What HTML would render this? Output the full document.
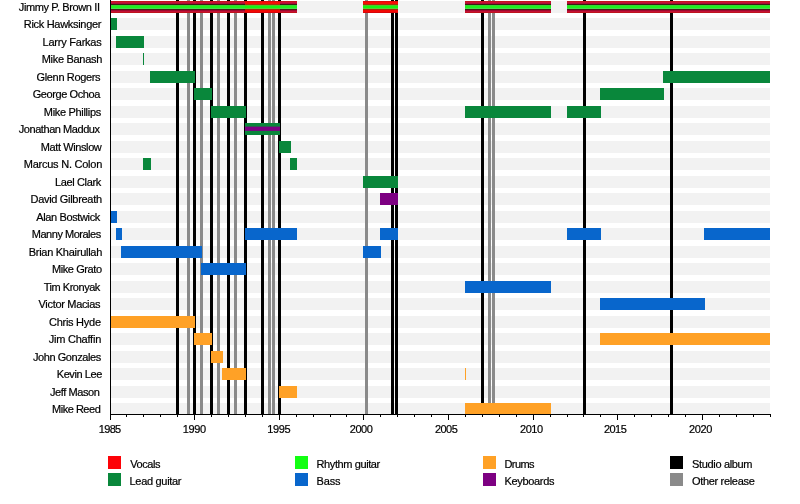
<!DOCTYPE html>
<html lang="en"><head><meta charset="utf-8"><title>Timeline</title>
<style>html,body{margin:0;padding:0;background:#fff}svg{display:block}text{stroke:#000;stroke-width:.2px}</style></head>
<body>
<svg width="800" height="504" viewBox="0 0 800 504" font-family="'Liberation Sans', sans-serif" font-size="11" fill="#000" >
<rect width="800" height="504" fill="#fff"/>
<g id="bands">
<rect x="110" y="1" width="660" height="12" fill="#f2f2f2"/>
<rect x="110" y="18" width="660" height="12" fill="#f2f2f2"/>
<rect x="110" y="36" width="660" height="12" fill="#f2f2f2"/>
<rect x="110" y="53" width="660" height="12" fill="#f2f2f2"/>
<rect x="110" y="71" width="660" height="12" fill="#f2f2f2"/>
<rect x="110" y="88" width="660" height="12" fill="#f2f2f2"/>
<rect x="110" y="106" width="660" height="12" fill="#f2f2f2"/>
<rect x="110" y="123" width="660" height="12" fill="#f2f2f2"/>
<rect x="110" y="141" width="660" height="12" fill="#f2f2f2"/>
<rect x="110" y="158" width="660" height="12" fill="#f2f2f2"/>
<rect x="110" y="176" width="660" height="12" fill="#f2f2f2"/>
<rect x="110" y="193" width="660" height="12" fill="#f2f2f2"/>
<rect x="110" y="211" width="660" height="12" fill="#f2f2f2"/>
<rect x="110" y="228" width="660" height="12" fill="#f2f2f2"/>
<rect x="110" y="246" width="660" height="12" fill="#f2f2f2"/>
<rect x="110" y="263" width="660" height="12" fill="#f2f2f2"/>
<rect x="110" y="281" width="660" height="12" fill="#f2f2f2"/>
<rect x="110" y="298" width="660" height="12" fill="#f2f2f2"/>
<rect x="110" y="316" width="660" height="12" fill="#f2f2f2"/>
<rect x="110" y="333" width="660" height="12" fill="#f2f2f2"/>
<rect x="110" y="351" width="660" height="12" fill="#f2f2f2"/>
<rect x="110" y="368" width="660" height="12" fill="#f2f2f2"/>
<rect x="110" y="386" width="660" height="12" fill="#f2f2f2"/>
<rect x="110" y="403" width="660" height="12" fill="#f2f2f2"/>
</g>
<g id="lines">
<rect x="187" y="0" width="3" height="414" fill="#8a8a8a"/>
<rect x="200" y="0" width="3" height="414" fill="#8a8a8a"/>
<rect x="217" y="0" width="3" height="414" fill="#8a8a8a"/>
<rect x="234" y="0" width="3" height="414" fill="#8a8a8a"/>
<rect x="268" y="0" width="3" height="414" fill="#8a8a8a"/>
<rect x="272" y="0" width="3" height="414" fill="#8a8a8a"/>
<rect x="365" y="0" width="3" height="414" fill="#8a8a8a"/>
<rect x="488" y="0" width="3" height="414" fill="#8a8a8a"/>
<rect x="492" y="0" width="3" height="414" fill="#8a8a8a"/>
<rect x="176" y="0" width="3" height="414" fill="#000"/>
<rect x="193" y="0" width="3" height="414" fill="#000"/>
<rect x="210" y="0" width="3" height="414" fill="#000"/>
<rect x="227" y="0" width="3" height="414" fill="#000"/>
<rect x="244" y="0" width="3" height="414" fill="#000"/>
<rect x="261" y="0" width="3" height="414" fill="#000"/>
<rect x="278" y="0" width="3" height="414" fill="#000"/>
<rect x="391" y="0" width="3" height="414" fill="#000"/>
<rect x="395" y="0" width="3" height="414" fill="#000"/>
<rect x="481" y="0" width="3" height="414" fill="#000"/>
<rect x="583" y="0" width="3" height="414" fill="#000"/>
<rect x="670" y="0" width="3" height="414" fill="#000"/>
</g>
<g id="bars">
<rect x="110" y="1" width="135" height="1" fill="#c2141e"/>
<rect x="110" y="2" width="135" height="1" fill="#c80f37"/>
<rect x="110" y="3" width="135" height="1" fill="#ac0c34"/>
<rect x="110" y="4" width="135" height="1" fill="#3a200f"/>
<rect x="110" y="5" width="135" height="1" fill="#34d634"/>
<rect x="110" y="6" width="135" height="1" fill="#1ef01e"/>
<rect x="110" y="7" width="135" height="1" fill="#1ef01e"/>
<rect x="110" y="8" width="135" height="1" fill="#48dc50"/>
<rect x="110" y="9" width="135" height="1" fill="#441e14"/>
<rect x="110" y="10" width="135" height="1" fill="#9c0a2c"/>
<rect x="110" y="11" width="135" height="1" fill="#c40f37"/>
<rect x="110" y="12" width="135" height="1" fill="#bd141e"/>
<rect x="245" y="1" width="35" height="1" fill="#e00808"/>
<rect x="245" y="2" width="35" height="1" fill="#fa0a05"/>
<rect x="245" y="3" width="35" height="1" fill="#f50f05"/>
<rect x="245" y="4" width="35" height="1" fill="#a0380a"/>
<rect x="245" y="5" width="35" height="1" fill="#50c828"/>
<rect x="245" y="6" width="35" height="1" fill="#14f514"/>
<rect x="245" y="7" width="35" height="1" fill="#14f514"/>
<rect x="245" y="8" width="35" height="1" fill="#5ad232"/>
<rect x="245" y="9" width="35" height="1" fill="#a02d0a"/>
<rect x="245" y="10" width="35" height="1" fill="#eb0a05"/>
<rect x="245" y="11" width="35" height="1" fill="#f50805"/>
<rect x="245" y="12" width="35" height="1" fill="#d7050a"/>
<rect x="280" y="1" width="17" height="1" fill="#c2141e"/>
<rect x="280" y="2" width="17" height="1" fill="#c80f37"/>
<rect x="280" y="3" width="17" height="1" fill="#ac0c34"/>
<rect x="280" y="4" width="17" height="1" fill="#3a200f"/>
<rect x="280" y="5" width="17" height="1" fill="#34d634"/>
<rect x="280" y="6" width="17" height="1" fill="#1ef01e"/>
<rect x="280" y="7" width="17" height="1" fill="#1ef01e"/>
<rect x="280" y="8" width="17" height="1" fill="#48dc50"/>
<rect x="280" y="9" width="17" height="1" fill="#441e14"/>
<rect x="280" y="10" width="17" height="1" fill="#9c0a2c"/>
<rect x="280" y="11" width="17" height="1" fill="#c40f37"/>
<rect x="280" y="12" width="17" height="1" fill="#bd141e"/>
<rect x="363" y="1" width="35" height="1" fill="#e00808"/>
<rect x="363" y="2" width="35" height="1" fill="#fa0a05"/>
<rect x="363" y="3" width="35" height="1" fill="#f50f05"/>
<rect x="363" y="4" width="35" height="1" fill="#a0380a"/>
<rect x="363" y="5" width="35" height="1" fill="#50c828"/>
<rect x="363" y="6" width="35" height="1" fill="#14f514"/>
<rect x="363" y="7" width="35" height="1" fill="#14f514"/>
<rect x="363" y="8" width="35" height="1" fill="#5ad232"/>
<rect x="363" y="9" width="35" height="1" fill="#a02d0a"/>
<rect x="363" y="10" width="35" height="1" fill="#eb0a05"/>
<rect x="363" y="11" width="35" height="1" fill="#f50805"/>
<rect x="363" y="12" width="35" height="1" fill="#d7050a"/>
<rect x="465" y="1" width="86" height="1" fill="#c2141e"/>
<rect x="465" y="2" width="86" height="1" fill="#c80f37"/>
<rect x="465" y="3" width="86" height="1" fill="#ac0c34"/>
<rect x="465" y="4" width="86" height="1" fill="#3a200f"/>
<rect x="465" y="5" width="86" height="1" fill="#34d634"/>
<rect x="465" y="6" width="86" height="1" fill="#1ef01e"/>
<rect x="465" y="7" width="86" height="1" fill="#1ef01e"/>
<rect x="465" y="8" width="86" height="1" fill="#48dc50"/>
<rect x="465" y="9" width="86" height="1" fill="#441e14"/>
<rect x="465" y="10" width="86" height="1" fill="#9c0a2c"/>
<rect x="465" y="11" width="86" height="1" fill="#c40f37"/>
<rect x="465" y="12" width="86" height="1" fill="#bd141e"/>
<rect x="567" y="1" width="203" height="1" fill="#c2141e"/>
<rect x="567" y="2" width="203" height="1" fill="#c80f37"/>
<rect x="567" y="3" width="203" height="1" fill="#ac0c34"/>
<rect x="567" y="4" width="203" height="1" fill="#3a200f"/>
<rect x="567" y="5" width="203" height="1" fill="#34d634"/>
<rect x="567" y="6" width="203" height="1" fill="#1ef01e"/>
<rect x="567" y="7" width="203" height="1" fill="#1ef01e"/>
<rect x="567" y="8" width="203" height="1" fill="#48dc50"/>
<rect x="567" y="9" width="203" height="1" fill="#441e14"/>
<rect x="567" y="10" width="203" height="1" fill="#9c0a2c"/>
<rect x="567" y="11" width="203" height="1" fill="#c40f37"/>
<rect x="567" y="12" width="203" height="1" fill="#bd141e"/>
<rect x="245" y="123" width="35" height="12" fill="#09873b"/>
<rect x="245" y="126.6" width="35" height="4.3" fill="#7d0082"/>
<rect x="110" y="18" width="7" height="12" fill="#09873b"/>
<rect x="116" y="36" width="28" height="12" fill="#09873b"/>
<rect x="143" y="53" width="1" height="12" fill="#09873b"/>
<rect x="150" y="71" width="45" height="12" fill="#09873b"/>
<rect x="663" y="71" width="107" height="12" fill="#09873b"/>
<rect x="194" y="88" width="18" height="12" fill="#09873b"/>
<rect x="600" y="88" width="64" height="12" fill="#09873b"/>
<rect x="211" y="106" width="35" height="12" fill="#09873b"/>
<rect x="465" y="106" width="86" height="12" fill="#09873b"/>
<rect x="567" y="106" width="34" height="12" fill="#09873b"/>
<rect x="279" y="141" width="12" height="12" fill="#09873b"/>
<rect x="143" y="158" width="8" height="12" fill="#09873b"/>
<rect x="290" y="158" width="7" height="12" fill="#09873b"/>
<rect x="363" y="176" width="35" height="12" fill="#09873b"/>
<rect x="380" y="193" width="18" height="12" fill="#7d0082"/>
<rect x="110" y="211" width="7" height="12" fill="#0866cc"/>
<rect x="116" y="228" width="6" height="12" fill="#0866cc"/>
<rect x="245" y="228" width="52" height="12" fill="#0866cc"/>
<rect x="380" y="228" width="18" height="12" fill="#0866cc"/>
<rect x="567" y="228" width="34" height="12" fill="#0866cc"/>
<rect x="704" y="228" width="66" height="12" fill="#0866cc"/>
<rect x="121" y="246" width="81" height="12" fill="#0866cc"/>
<rect x="363" y="246" width="18" height="12" fill="#0866cc"/>
<rect x="201" y="263" width="45" height="12" fill="#0866cc"/>
<rect x="465" y="281" width="86" height="12" fill="#0866cc"/>
<rect x="600" y="298" width="105" height="12" fill="#0866cc"/>
<rect x="110" y="316" width="85" height="12" fill="#ffa126"/>
<rect x="194" y="333" width="18" height="12" fill="#ffa126"/>
<rect x="600" y="333" width="170" height="12" fill="#ffa126"/>
<rect x="211" y="351" width="12" height="12" fill="#ffa126"/>
<rect x="222" y="368" width="24" height="12" fill="#ffa126"/>
<rect x="465" y="368" width="1" height="12" fill="#ffa126"/>
<rect x="279" y="386" width="18" height="12" fill="#ffa126"/>
<rect x="465" y="403" width="86" height="12" fill="#ffa126"/>
</g>
<g id="axis">
<rect x="110" y="0" width="1" height="415" fill="#000"/>
<rect x="110" y="414" width="661" height="1" fill="#000"/>
<rect x="110" y="415" width="1" height="5" fill="#000"/>
<text x="98.75" y="433" textLength="22.45" lengthAdjust="spacing">1985</text>
<rect x="126" y="415" width="1" height="2" fill="#000"/>
<rect x="143" y="415" width="1" height="2" fill="#000"/>
<rect x="160" y="415" width="1" height="2" fill="#000"/>
<rect x="177" y="415" width="1" height="2" fill="#000"/>
<rect x="194" y="415" width="1" height="5" fill="#000"/>
<text x="182.70" y="433" textLength="23.35" lengthAdjust="spacing">1990</text>
<rect x="211" y="415" width="1" height="2" fill="#000"/>
<rect x="228" y="415" width="1" height="2" fill="#000"/>
<rect x="245" y="415" width="1" height="2" fill="#000"/>
<rect x="262" y="415" width="1" height="2" fill="#000"/>
<rect x="279" y="415" width="1" height="5" fill="#000"/>
<text x="267.30" y="433" textLength="23.25" lengthAdjust="spacing">1995</text>
<rect x="296" y="415" width="1" height="2" fill="#000"/>
<rect x="313" y="415" width="1" height="2" fill="#000"/>
<rect x="330" y="415" width="1" height="2" fill="#000"/>
<rect x="346" y="415" width="1" height="2" fill="#000"/>
<rect x="363" y="415" width="1" height="5" fill="#000"/>
<text x="349.80" y="433" textLength="23.10" lengthAdjust="spacing">2000</text>
<rect x="380" y="415" width="1" height="2" fill="#000"/>
<rect x="397" y="415" width="1" height="2" fill="#000"/>
<rect x="414" y="415" width="1" height="2" fill="#000"/>
<rect x="431" y="415" width="1" height="2" fill="#000"/>
<rect x="448" y="415" width="1" height="5" fill="#000"/>
<text x="434.90" y="433" textLength="22.85" lengthAdjust="spacing">2005</text>
<rect x="465" y="415" width="1" height="2" fill="#000"/>
<rect x="482" y="415" width="1" height="2" fill="#000"/>
<rect x="499" y="415" width="1" height="2" fill="#000"/>
<rect x="516" y="415" width="1" height="2" fill="#000"/>
<rect x="533" y="415" width="1" height="5" fill="#000"/>
<text x="520.05" y="433" textLength="23.10" lengthAdjust="spacing">2010</text>
<rect x="550" y="415" width="1" height="2" fill="#000"/>
<rect x="567" y="415" width="1" height="2" fill="#000"/>
<rect x="583" y="415" width="1" height="2" fill="#000"/>
<rect x="600" y="415" width="1" height="2" fill="#000"/>
<rect x="617" y="415" width="1" height="5" fill="#000"/>
<text x="603.95" y="433" textLength="22.85" lengthAdjust="spacing">2015</text>
<rect x="634" y="415" width="1" height="2" fill="#000"/>
<rect x="651" y="415" width="1" height="2" fill="#000"/>
<rect x="668" y="415" width="1" height="2" fill="#000"/>
<rect x="685" y="415" width="1" height="2" fill="#000"/>
<rect x="702" y="415" width="1" height="5" fill="#000"/>
<text x="688.95" y="433" textLength="23.35" lengthAdjust="spacing">2020</text>
<rect x="719" y="415" width="1" height="2" fill="#000"/>
<rect x="736" y="415" width="1" height="2" fill="#000"/>
<rect x="753" y="415" width="1" height="2" fill="#000"/>
<rect x="770" y="415" width="1" height="2" fill="#000"/>
</g>
<g id="labels">
<text x="18.80" y="10.80" textLength="81.20" lengthAdjust="spacing">Jimmy P. Brown II</text>
<text x="23.75" y="28.30" textLength="77.75" lengthAdjust="spacing">Rick Hawksinger</text>
<text x="42.50" y="45.80" textLength="59.25" lengthAdjust="spacing">Larry Farkas</text>
<text x="41.75" y="63.30" textLength="60.55" lengthAdjust="spacing">Mike Banash</text>
<text x="36.55" y="80.80" textLength="64.00" lengthAdjust="spacing">Glenn Rogers</text>
<text x="32.70" y="98.30" textLength="67.60" lengthAdjust="spacing">George Ochoa</text>
<text x="43.80" y="115.80" textLength="57.40" lengthAdjust="spacing">Mike Phillips</text>
<text x="18.80" y="133.30" textLength="81.20" lengthAdjust="spacing">Jonathan Maddux</text>
<text x="40.80" y="150.80" textLength="61.00" lengthAdjust="spacing">Matt Winslow</text>
<text x="23.75" y="168.30" textLength="78.55" lengthAdjust="spacing">Marcus N. Colon</text>
<text x="54.95" y="185.80" textLength="46.30" lengthAdjust="spacing">Lael Clark</text>
<text x="30.50" y="203.30" textLength="71.50" lengthAdjust="spacing">David Gilbreath</text>
<text x="36.20" y="220.80" textLength="64.10" lengthAdjust="spacing">Alan Bostwick</text>
<text x="31.80" y="238.30" textLength="69.40" lengthAdjust="spacing">Manny Morales</text>
<text x="28.70" y="255.80" textLength="73.60" lengthAdjust="spacing">Brian Khairullah</text>
<text x="51.95" y="273.30" textLength="50.10" lengthAdjust="spacing">Mike Grato</text>
<text x="43.70" y="290.80" textLength="56.60" lengthAdjust="spacing">Tim Kronyak</text>
<text x="38.55" y="308.30" textLength="62.00" lengthAdjust="spacing">Victor Macias</text>
<text x="49.00" y="325.80" textLength="52.00" lengthAdjust="spacing">Chris Hyde</text>
<text x="48.80" y="343.30" textLength="52.45" lengthAdjust="spacing">Jim Chaffin</text>
<text x="32.95" y="360.80" textLength="68.25" lengthAdjust="spacing">John Gonzales</text>
<text x="56.75" y="378.30" textLength="45.55" lengthAdjust="spacing">Kevin Lee</text>
<text x="50.00" y="395.80" textLength="49.95" lengthAdjust="spacing">Jeff Mason</text>
<text x="51.95" y="413.30" textLength="48.85" lengthAdjust="spacing">Mike Reed</text>
</g>
<g id="legend">
<rect x="108" y="456" width="13" height="13" fill="#fd0207"/>
<text x="130.25" y="467.60" textLength="30.25" lengthAdjust="spacing">Vocals</text>
<rect x="108" y="473" width="13" height="13" fill="#09873b"/>
<text x="129.50" y="484.60" textLength="52.00" lengthAdjust="spacing">Lead guitar</text>
<rect x="295" y="456" width="13" height="13" fill="#12ff12"/>
<text x="316.50" y="467.60" textLength="63.75" lengthAdjust="spacing">Rhythm guitar</text>
<rect x="295" y="473" width="13" height="13" fill="#0866cc"/>
<text x="316.50" y="484.60" textLength="24.00" lengthAdjust="spacing">Bass</text>
<rect x="483" y="456" width="13" height="13" fill="#ffa126"/>
<text x="504.50" y="467.60" textLength="30.00" lengthAdjust="spacing">Drums</text>
<rect x="483" y="473" width="13" height="13" fill="#7d0082"/>
<text x="504.50" y="484.60" textLength="50.00" lengthAdjust="spacing">Keyboards</text>
<rect x="670" y="456" width="13" height="13" fill="#000"/>
<text x="692.00" y="467.60" textLength="60.50" lengthAdjust="spacing">Studio album</text>
<rect x="670" y="473" width="13" height="13" fill="#8a8a8a"/>
<text x="692.00" y="484.60" textLength="62.75" lengthAdjust="spacing">Other release</text>
</g>
</svg>
</body></html>
